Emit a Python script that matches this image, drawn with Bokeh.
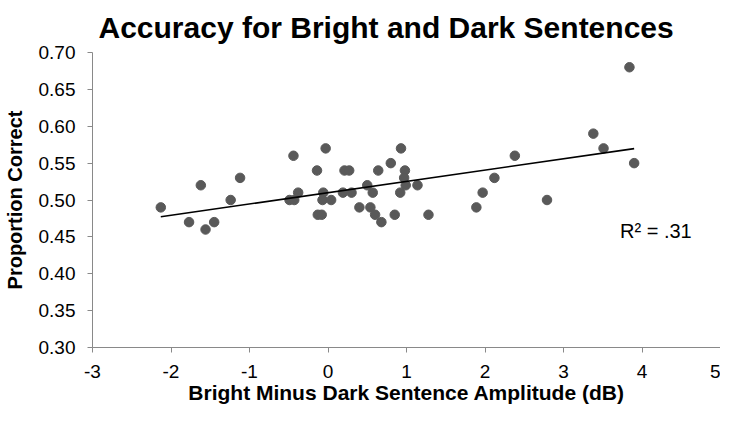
import numpy as np
from bokeh.plotting import figure
from bokeh.models import Range1d, FixedTicker, PrintfTickFormatter, Label, ColumnDataSource
from bokeh.embed import file_html
from bokeh.resources import INLINE

# ---- data ----
amplitude_db = [-2.13, -1.77, -1.62, -1.56, -1.45, -1.24, -1.12,
                -0.49, -0.43, -0.44, -0.38, -0.14, -0.03, -0.13, -0.08,
                -0.06, -0.07, 0.04, 0.19, 0.21, 0.27, 0.30, 0.40, 0.50,
                0.54, 0.57, 0.60, 0.64, 0.68, 0.80, 0.85, 0.93, 0.92,
                0.98, 0.97, 0.99, 1.14, 1.28, 1.89, 1.97, 2.12, 2.38,
                2.79, 3.38, 3.51, 3.84, 3.90]
prop_correct = [0.49, 0.47, 0.52, 0.46, 0.47, 0.50, 0.53,
                0.50, 0.50, 0.56, 0.51, 0.54, 0.57, 0.48, 0.48,
                0.51, 0.50, 0.50, 0.51, 0.54, 0.54, 0.51, 0.49, 0.52,
                0.49, 0.51, 0.48, 0.54, 0.47, 0.55, 0.48, 0.57, 0.51,
                0.54, 0.53, 0.52, 0.52, 0.48, 0.49, 0.51, 0.53, 0.56,
                0.50, 0.59, 0.57, 0.68, 0.55]
x_ticks = [-3, -2, -1, 0, 1, 2, 3, 4, 5]
y_ticks = [0.30, 0.35, 0.40, 0.45, 0.50, 0.55, 0.60, 0.65, 0.70]
r2_text = "R\u00b2 = .31"
title_text = "Accuracy for Bright and Dark Sentences"
x_title = "Bright Minus Dark Sentence Amplitude (dB)"
y_title = "Proportion Correct"

FONT = "Liberation Sans"
AXIS_GRAY = "#898989"
DOT = "#595959"

p = figure(width=720, height=409, output_backend="svg", toolbar_location=None,
           x_range=Range1d(x_ticks[0], x_ticks[-1]),
           y_range=Range1d(y_ticks[0], y_ticks[-1]),
           min_border_left=90, min_border_right=0,
           min_border_top=51, min_border_bottom=62)

p.background_fill_color = "white"
p.border_fill_color = "white"
p.outline_line_color = None
p.grid.visible = False

# title
p.title.text = title_text
p.title.text_font = FONT
p.title.text_font_size = "30px"
p.title.text_font_style = "bold"
p.title.text_color = "black"
p.title.align = "left"
p.title.offset = 6
p.title.standoff = 17

# axes
for ax in (p.xaxis[0], p.yaxis[0]):
    ax.axis_line_color = AXIS_GRAY
    ax.axis_line_width = 1
    ax.major_tick_line_color = AXIS_GRAY
    ax.major_tick_in = 0
    ax.major_tick_out = 5
    ax.minor_tick_line_color = None
    ax.major_label_text_font = FONT
    ax.major_label_text_font_size = "19px"
    ax.major_label_text_color = "black"
    ax.axis_label_text_font = FONT
    ax.axis_label_text_font_style = "bold"
    ax.axis_label_text_color = "black"

p.xaxis.ticker = FixedTicker(ticks=x_ticks)
p.yaxis.ticker = FixedTicker(ticks=y_ticks)
p.xaxis.formatter = PrintfTickFormatter(format="%d")
p.yaxis.formatter = PrintfTickFormatter(format="%.2f")

p.xaxis.axis_label = x_title
p.xaxis.axis_label_text_font_size = "21px"
p.xaxis.major_label_standoff = 12
p.xaxis.axis_label_standoff = 0

p.yaxis.axis_label = y_title
p.yaxis.axis_label_text_font_size = "20px"
p.yaxis.major_label_standoff = 12
p.yaxis.axis_label_standoff = 10

# scatter points
src = ColumnDataSource(dict(x=amplitude_db, y=prop_correct))
p.scatter("x", "y", source=src, size=9.5, fill_color=DOT, line_color=DOT)

# linear trend line (least squares fit of the data)
slope, intercept = np.polyfit(amplitude_db, prop_correct, 1)
fx = [min(amplitude_db), max(amplitude_db)]
fy = [slope * v + intercept for v in fx]
p.line(fx, fy, line_color="black", line_width=1.6)

p.add_layout(Label(x=3.72, y=0.458, text=r2_text, text_font=FONT,
                   text_font_size="20px", text_color="black",
                   text_align="left", text_baseline="middle"))

open("out.html", "w").write(file_html(p, INLINE))
